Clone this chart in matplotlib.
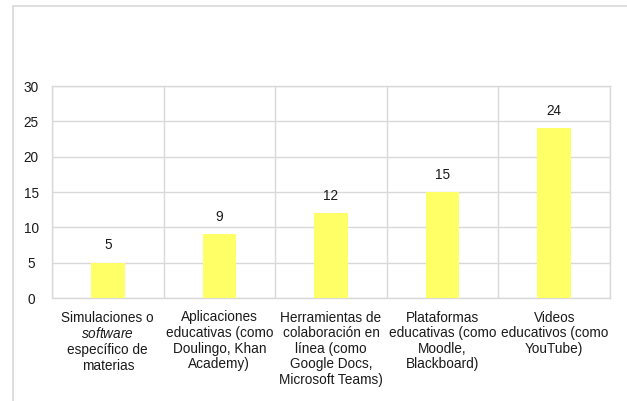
import matplotlib
matplotlib.use("Agg")
import matplotlib.pyplot as plt
from matplotlib.patches import Rectangle
import numpy as np

plt.rcParams["font.family"] = ["Liberation Sans", "DejaVu Sans"]
plt.rcParams["mathtext.fontset"] = "custom"
plt.rcParams["mathtext.rm"] = "Liberation Sans"
plt.rcParams["mathtext.it"] = "Liberation Sans:italic"

categories = [
    "Simulaciones o\n$\\mathit{software}$\nespecífico de\nmaterias",
    "Aplicaciones\neducativas (como\nDoulingo, Khan\nAcademy)",
    "Herramientas de\ncolaboración en\nlínea (como\nGoogle Docs,\nMicrosoft Teams)",
    "Plataformas\neducativas (como\nMoodle,\nBlackboard)",
    "Videos\neducativos (como\nYouTube)",
]
values = [5, 9, 12, 15, 24]
y_ticks = [0, 5, 10, 15, 20, 25, 30]

text_color = "#1a1a1a"
grid_color = "#d9d9d9"
bar_color = "#ffff66"
fs = 9.8

fig = plt.figure(figsize=(6.27, 4.01), dpi=100)

# outer chart frame (open to the right and bottom)
fig.patches.append(Rectangle((13 / 627, -0.05), 1.2, 1 - 5.5 / 401 + 0.05,
                             transform=fig.transFigure, fill=False,
                             edgecolor="#d9d9d9", linewidth=1.2))

ax = fig.add_axes([52 / 627, 1 - 298 / 401, (610 - 52) / 627, (298 - 86) / 401])

x = np.arange(len(values))
bars = ax.bar(x, values, width=0.30, color=bar_color, zorder=3)

for xi, v in zip(x, values):
    ax.annotate(str(v), (xi, v), xytext=(0, 7.5), textcoords="offset points",
                ha="center", va="bottom", fontsize=fs, color=text_color)

ax.set_xlim(-0.5, len(values) - 0.5)
ax.set_ylim(0, 30)
ax.set_yticks(y_ticks)
ax.set_yticklabels([str(t) for t in y_ticks], fontsize=fs, color=text_color, ha="center")
ax.tick_params(axis="y", length=0, pad=15)

ax.set_xticks(x)
ax.set_xticklabels(categories, fontsize=fs, color=text_color, linespacing=1.15)
ax.tick_params(axis="x", length=0, pad=9)

# horizontal grid lines at each y tick, vertical lines between categories
for t in y_ticks:
    ax.axhline(t, color=grid_color, linewidth=1.0, zorder=1)
for b in np.arange(-0.5, len(values), 1.0):
    ax.axvline(b, color=grid_color, linewidth=1.0, zorder=1)

for s in ax.spines.values():
    s.set_color(grid_color)
    s.set_linewidth(1.0)

fig.savefig("out.png", dpi=100)
